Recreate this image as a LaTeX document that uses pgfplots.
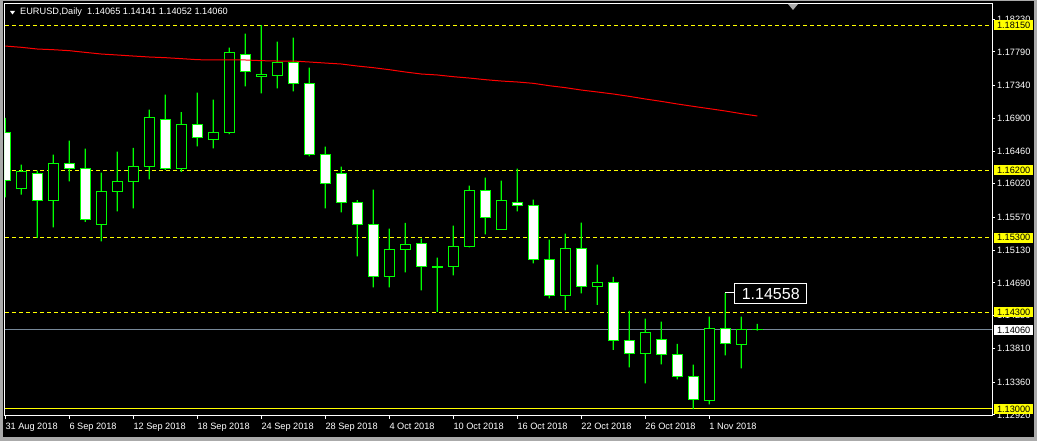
\documentclass[border=0pt]{standalone}
\usepackage{pgfplots}
\usepackage{pgfplotstable}
\pgfplotsset{compat=1.18}
\usepackage{fontspec}
\setmainfont{Liberation Sans}

\definecolor{mtlime}{RGB}{0,255,0}
\definecolor{mtyellow}{RGB}{255,255,0}
\definecolor{mtslate}{RGB}{119,136,153}
\definecolor{mtwin}{RGB}{170,170,170}

% EURUSD daily bars, k = bar number counted from 31 Aug 2018
\pgfplotstableread{
k O H L C
0 1.16715 1.16903 1.15839 1.16071
1 1.15951 1.16277 1.15875 1.16179
2 1.16165 1.16197 1.15294 1.15803
3 1.15803 1.16411 1.15437 1.16286
4 1.16286 1.16599 1.16054 1.16232
5 1.16219 1.16492 1.15508 1.15535
6 1.15468 1.16170 1.15249 1.15911
7 1.15911 1.16451 1.15651 1.16045
8 1.16045 1.16501 1.15692 1.16259
9 1.16246 1.17015 1.16080 1.16903
10 1.16889 1.17216 1.16206 1.16219
11 1.16232 1.16983 1.16179 1.16822
12 1.16822 1.17243 1.16523 1.16635
13 1.16621 1.17149 1.16496 1.16715
14 1.16715 1.17846 1.16688 1.17775
15 1.17761 1.18034 1.17328 1.17520
16 1.17453 1.18150 1.17234 1.17480
17 1.17475 1.17927 1.17301 1.17654
18 1.17654 1.17980 1.17261 1.17372
19 1.17372 1.17578 1.16389 1.16407
20 1.16407 1.16518 1.15692 1.16027
21 1.16165 1.16250 1.15638 1.15772
22 1.15776 1.15803 1.15048 1.15468
23 1.15468 1.15942 1.14632 1.14771
24 1.14771 1.15419 1.14632 1.15133
25 1.15133 1.15495 1.14833 1.15200
26 1.15213 1.15285 1.14592 1.14905
27 1.14910 1.15030 1.14301 1.14900
28 1.14905 1.15459 1.14793 1.15173
29 1.15173 1.15995 1.15168 1.15924
30 1.15924 1.16103 1.15343 1.15575
31 1.15401 1.16063 1.15401 1.15790
32 1.15776 1.16223 1.15651 1.15736
33 1.15736 1.15808 1.14954 1.14999
34 1.14999 1.15271 1.14485 1.14516
35 1.14516 1.15352 1.14324 1.15146
36 1.15146 1.15499 1.14552 1.14637
37 1.14637 1.14936 1.14395 1.14690
38 1.14690 1.14771 1.13792 1.13912
39 1.13912 1.14315 1.13559 1.13738
40 1.13738 1.14212 1.13345 1.14020
41 1.13926 1.14172 1.13600 1.13725
42 1.13725 1.13872 1.13398 1.13430
43 1.13430 1.13595 1.12999 1.13121
44 1.13108 1.14239 1.13063 1.14073
45 1.14073 1.14558 1.13720 1.13872
46 1.13859 1.14239 1.13546 1.14060
47 1.14065 1.14141 1.14052 1.14060
}\candles

% red moving average
\pgfplotstableread{
k v
0 1.17868
1 1.17851
2 1.17828
3 1.17819
4 1.17806
5 1.17783
6 1.17761
7 1.17748
8 1.17734
9 1.17721
10 1.17712
11 1.17699
12 1.17685
13 1.17681
14 1.17681
15 1.17681
16 1.17672
17 1.17667
18 1.17667
19 1.17654
20 1.17640
21 1.17627
22 1.17600
23 1.17578
24 1.17551
25 1.17520
26 1.17493
27 1.17480
28 1.17457
29 1.17439
30 1.17417
31 1.17399
32 1.17386
33 1.17368
34 1.17336
35 1.17310
36 1.17278
37 1.17252
38 1.17225
39 1.17193
40 1.17158
41 1.17126
42 1.17091
43 1.17059
44 1.17028
45 1.16997
46 1.16961
47 1.16930
}\mavg

\pgfplotsset{
  mtbase/.style={
    width=987pt, height=412pt, scale only axis,
    at={(5pt,25pt)}, anchor=south west,
    xmin=-0.02, xmax=61.67,
    ymin=1.12906, ymax=1.18432,
  },
  mthidden/.style={mtbase, hide axis},
}
\tikzset{
  pricebox/.style={anchor=west, xshift=2pt, inner sep=0pt, text=black,
    minimum width=39pt, minimum height=10pt, font=\fontsize{9.2}{11}\selectfont},
}

\begin{document}
\begin{tikzpicture}[x=1pt,y=1pt]
\fill[black] (0,0) rectangle (1037,441);
\fill[mtwin] (0,0) rectangle (3,441);
\fill[mtwin] (0,0) rectangle (1037,4);
\fill[mtwin] (1034,0) rectangle (1037,441);
\fill[mtwin] (0,440) rectangle (1037,441);

\begin{axis}[mtbase,
  axis line style={white, line width=1pt},
  tick style={white, line width=1pt},
  tick align=outside, major tick length=3pt,
  xtick pos=left, ytick pos=right, yticklabel pos=right,
  xtick={0,4,...,44},
  xticklabels={31 Aug 2018,6 Sep 2018,12 Sep 2018,18 Sep 2018,24 Sep 2018,28 Sep 2018,4 Oct 2018,10 Oct 2018,16 Oct 2018,22 Oct 2018,26 Oct 2018,1 Nov 2018},
  ytick={1.1292,1.1336,1.1381,1.1425,1.1469,1.1513,1.1557,1.1602,1.1646,1.1690,1.1734,1.1779,1.1823},
  yticklabels={1.12920,1.13360,1.13810,1.14250,1.14690,1.15130,1.15570,1.16020,1.16460,1.16900,1.17340,1.17790,1.18230},
  tick label style={font=\fontsize{9.2}{11}\selectfont, text=white, inner sep=0pt},
  xticklabel style={anchor=north west, yshift=-4pt},
  yticklabel style={anchor=west, xshift=2pt},
]
\addplot[mtyellow, line width=1pt, dash pattern=on 4pt off 3pt] coordinates {(-0.02,1.1815) (61.67,1.1815)};
\addplot[mtyellow, line width=1pt, dash pattern=on 4pt off 3pt] coordinates {(-0.02,1.1620) (61.67,1.1620)};
\addplot[mtyellow, line width=1pt, dash pattern=on 4pt off 3pt] coordinates {(-0.02,1.1530) (61.67,1.1530)};
\addplot[mtyellow, line width=1pt, dash pattern=on 4pt off 3pt] coordinates {(-0.02,1.1430) (61.67,1.1430)};
\addplot[mtyellow, line width=1pt] coordinates {(-0.02,1.1300) (61.67,1.1300)};
\addplot[mtslate, line width=1pt] coordinates {(-0.02,1.1406) (61.67,1.1406)};
\end{axis}

% wicks: invisible base at the low, then a thin lime bar up to the high
\begin{axis}[mthidden, ybar stacked, bar width=1.2pt]
\addplot[draw=none, fill=none] table[x=k, y=L] {\candles};
\addplot[draw=none, fill=mtlime] table[x=k, y expr={\thisrow{H}-\thisrow{L}}] {\candles};
\end{axis}

% bodies: invisible base, then bull (black) and bear (white)
\begin{axis}[mthidden, ybar stacked, bar width=9.5pt]
\addplot[draw=none, fill=none] table[x=k, y expr={min(\thisrow{O},\thisrow{C})}] {\candles};
\addplot[draw=mtlime, fill=black, line width=1pt] table[x=k, y expr={max(\thisrow{C}-\thisrow{O},0)}] {\candles};
\addplot[draw=mtlime, fill=white, line width=1pt] table[x=k, y expr={max(\thisrow{O}-\thisrow{C},0)}] {\candles};
\end{axis}

\begin{axis}[mthidden, clip=false]
\addplot[red, line width=1pt] table[x=k, y=v] {\mavg};
\draw[white, line width=1pt] (axis cs:45,1.14558) -- (axis cs:45.56,1.14558);
\node[draw=white, fill=black, text=white, line width=1pt, anchor=west, inner sep=0pt,
  minimum width=72pt, minimum height=20pt, font=\fontsize{16}{18}\selectfont]
  at (axis cs:45.56,1.14545) {1.14558};
\node[pricebox, fill=mtyellow] at (axis cs:61.67,1.1815) {1.18150};
\node[pricebox, fill=mtyellow] at (axis cs:61.67,1.1620) {1.16200};
\node[pricebox, fill=mtyellow] at (axis cs:61.67,1.1530) {1.15300};
\node[pricebox, fill=mtyellow] at (axis cs:61.67,1.1430) {1.14300};
\node[pricebox, fill=mtyellow] at (axis cs:61.67,1.1300) {1.13000};
\node[pricebox, fill=white] at (axis cs:61.67,1.1406) {1.14060};
\end{axis}

% title and chart-shift marker
\fill[white] (10,430) -- (15,430) -- (12.5,426.5) -- cycle;
\node[anchor=west, inner sep=0pt, text=white, font=\fontsize{9.2}{11}\selectfont]
  at (20,428.7) {EURUSD,Daily\ \ 1.14065 1.14141 1.14052 1.14060};
\fill[mtwin] (788,437) -- (798,437) -- (793,431) -- cycle;
\end{tikzpicture}
\end{document}
